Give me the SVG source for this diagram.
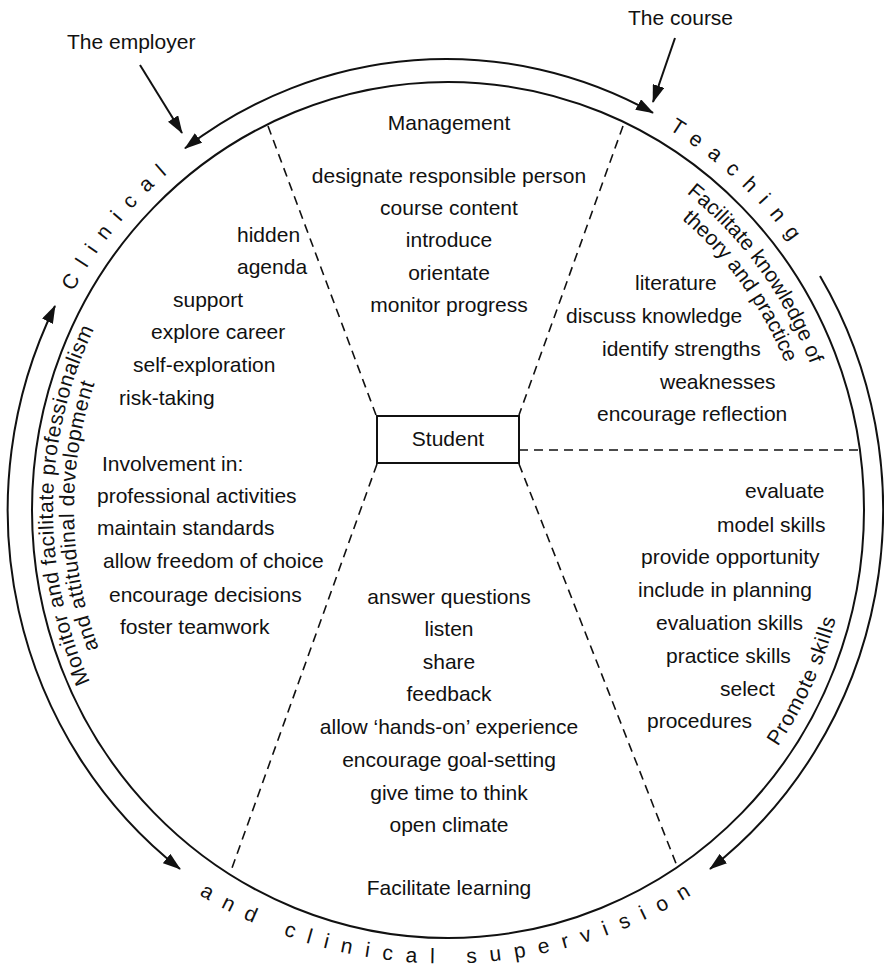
<svg xmlns="http://www.w3.org/2000/svg" width="884" height="971" viewBox="0 0 884 971">
  <defs>
    <style>
      text { font-family: "Liberation Sans", Arial, Helvetica, sans-serif; font-size: 21px; fill: #111; }
      .mid { text-anchor: middle; }
      .ring { fill: none; stroke: #111; stroke-width: 2; }
      .flow { fill: none; stroke: #111; stroke-width: 2; }
      .divider { fill: none; stroke: #111; stroke-width: 1.6; stroke-dasharray: 9 6; }
      .box { fill: #fff; stroke: #111; stroke-width: 2; }
    </style>
    <marker id="head" viewBox="0 0 18 12" refX="17" refY="6" markerWidth="18" markerHeight="12" markerUnits="userSpaceOnUse" orient="auto-start-reverse">
      <path d="M0,0 L18,6 L0,12 z" fill="#111"/>
    </marker>
    <!-- baselines for the curved labels -->
    <path id="p-clinical" d="M 72.9 291.9 A 431 443 0 0 1 448 67"/>
    <path id="p-teaching" d="M 668.7 129.5 A 431 443 0 0 1 879 510"/>
    <path id="p-bottom" d="M 199.2 894.7 A 475.5 475.5 0 0 0 921 488"/>
    <path id="p-know1" d="M 686.4 193.1 A 389 401 0 0 1 837 510"/>
    <path id="p-know2" d="M 681.8 219.2 A 366 378 0 0 1 814 510"/>
    <path id="p-promote" d="M 777.7 746.8 A 402 414 0 0 0 850 510"/>
    <path id="p-monitor1" d="M 90 682 A 395 407 0 0 1 448 103"/>
    <path id="p-monitor2" d="M 98.8 648.3 A 374 386 0 0 1 448 124"/>
  </defs>

  <!-- main ring -->
  <ellipse class="ring" cx="448" cy="510" rx="416" ry="428"/>

  <g id="connectors">
    <!-- sector dividers -->
    <line class="divider" x1="268" y1="126" x2="376" y2="415"/>
    <line class="divider" x1="623" y1="126" x2="519" y2="415"/>
    <line class="divider" x1="519" y1="450" x2="861" y2="450"/>
    <line class="divider" x1="377" y1="464" x2="232" y2="868"/>
    <line class="divider" x1="519" y1="464" x2="677" y2="866"/>
    <!-- outer flow arcs -->
    <path class="flow" d="M 185 148.3 A 437 451 0 0 1 653 112.8" marker-start="url(#head)" marker-end="url(#head)"/>
    <path class="flow" d="M 55 306 A 437 451 0 0 0 180 869" marker-start="url(#head)" marker-end="url(#head)"/>
    <path class="flow" d="M 820 276 A 437 451 0 0 1 710 869" marker-end="url(#head)"/>
    <!-- inputs -->
    <line class="flow" x1="140" y1="65" x2="182" y2="133" marker-end="url(#head)"/>
    <line class="flow" x1="675" y1="38" x2="653" y2="102" marker-end="url(#head)"/>
  </g>

  <g id="employer">
    <text x="67" y="49">The employer</text>
  </g>
  <g id="course">
    <text x="628" y="25">The course</text>
  </g>

  <g id="ring-labels">
    <text letter-spacing="12"><textPath href="#p-clinical">Clinical</textPath></text>
    <text letter-spacing="11.8"><textPath href="#p-teaching">Teaching</textPath></text>
    <text letter-spacing="13.1"><textPath href="#p-bottom">and clinical supervision</textPath></text>
  </g>

  <g id="student">
    <rect class="box" x="377" y="416" width="142" height="47"/>
    <text class="mid" x="448" y="446">Student</text>
  </g>

  <g id="management">
    <text class="mid" x="449" y="130">Management</text>
    <text class="mid" x="449" y="183">designate responsible person</text>
    <text class="mid" x="449" y="215">course content</text>
    <text class="mid" x="449" y="247">introduce</text>
    <text class="mid" x="449" y="280">orientate</text>
    <text class="mid" x="449" y="312">monitor progress</text>
  </g>

  <g id="professionalism">
    <text letter-spacing="0.5"><textPath href="#p-monitor1">Monitor and facilitate professionalism</textPath></text>
    <text letter-spacing="0.5"><textPath href="#p-monitor2">and attitudinal development</textPath></text>
    <text x="237" y="242">hidden</text>
    <text x="237" y="274">agenda</text>
    <text x="173" y="307">support</text>
    <text x="151" y="339">explore career</text>
    <text x="133" y="372">self-exploration</text>
    <text x="119" y="405">risk-taking</text>
    <text x="102" y="471">Involvement in:</text>
    <text x="97" y="503">professional activities</text>
    <text x="97" y="535">maintain standards</text>
    <text x="103" y="568">allow freedom of choice</text>
    <text x="109" y="602">encourage decisions</text>
    <text x="120" y="634">foster teamwork</text>
  </g>

  <g id="knowledge">
    <text><textPath href="#p-know1">Facilitate knowledge of</textPath></text>
    <text><textPath href="#p-know2">theory and practice</textPath></text>
    <text x="635" y="290">literature</text>
    <text x="566" y="323">discuss knowledge</text>
    <text x="602" y="356">identify strengths</text>
    <text x="660" y="389">weaknesses</text>
    <text x="597" y="421">encourage reflection</text>
  </g>

  <g id="skills">
    <text letter-spacing="0.8"><textPath href="#p-promote">Promote skills</textPath></text>
    <text x="745" y="498">evaluate</text>
    <text x="717" y="532">model skills</text>
    <text x="641" y="564">provide opportunity</text>
    <text x="638" y="597">include in planning</text>
    <text x="656" y="630">evaluation skills</text>
    <text x="666" y="663">practice skills</text>
    <text x="720" y="696">select</text>
    <text x="647" y="728">procedures</text>
  </g>

  <g id="learning">
    <text class="mid" x="449" y="604">answer questions</text>
    <text class="mid" x="449" y="636">listen</text>
    <text class="mid" x="449" y="669">share</text>
    <text class="mid" x="449" y="701">feedback</text>
    <text class="mid" x="449" y="734">allow ‘hands-on’ experience</text>
    <text class="mid" x="449" y="767">encourage goal-setting</text>
    <text class="mid" x="449" y="800">give time to think</text>
    <text class="mid" x="449" y="832">open climate</text>
    <text class="mid" x="449" y="895">Facilitate learning</text>
  </g>
</svg>
